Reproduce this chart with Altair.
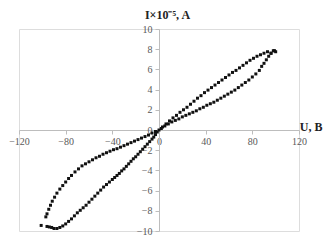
import altair as alt
import pandas as pd

# Positive voltage, upper branch
pu_x = [0, 3, 6, 9, 12, 15, 18, 21, 24, 27, 30, 33, 36, 39, 42, 45, 48, 51, 54, 57,
        60, 63, 66, 69, 72, 75, 78, 81, 84, 87, 90, 93, 96, 99]
pu_y = [0.0, 0.3, 0.6, 0.9, 1.2, 1.45, 1.75, 2.0, 2.25, 2.55, 2.85, 3.15, 3.4, 3.7, 3.95, 4.2, 4.45, 4.7, 4.95, 5.2,
        5.45, 5.7, 5.9, 6.15, 6.4, 6.65, 6.9, 7.1, 7.3, 7.45, 7.6, 7.75, 7.6, 7.85]
# Positive voltage, lower branch
pl_x = [2, 5, 8, 11, 14, 17, 20, 23, 26, 29, 32, 35, 38, 41, 44, 47, 50, 53, 56, 59,
        62, 65, 68, 71, 74, 77, 80, 83, 86, 88, 90, 92, 94, 96, 98, 100]
pl_y = [0.15, 0.4, 0.6, 0.8, 0.95, 1.1, 1.3, 1.45, 1.6, 1.75, 1.9, 2.1, 2.25, 2.45, 2.6, 2.75, 2.95, 3.15, 3.35, 3.55,
        3.75, 3.95, 4.2, 4.45, 4.7, 4.95, 5.25, 5.55, 5.9, 6.3, 6.6, 6.95, 7.3, 7.6, 7.85, 7.75]
# Negative voltage, upper branch
nu_x = [-3, -6, -9, -12, -15, -18, -21, -24, -27, -30, -33, -36, -39, -42, -45, -48, -51, -54, -57, -60,
        -63, -66, -69, -72, -75, -77.5, -80, -82.5, -85, -87.5, -89.5, -91.5, -93, -94.5, -96, -97]
nu_y = [-0.15, -0.3, -0.5, -0.65, -0.8, -0.95, -1.1, -1.25, -1.4, -1.55, -1.7, -1.85, -1.95, -2.1, -2.25, -2.4, -2.6, -2.75, -2.95, -3.15,
        -3.35, -3.55, -3.85, -4.15, -4.5, -4.8, -5.15, -5.5, -5.85, -6.25, -6.65, -7.05, -7.45, -7.85, -8.3, -8.6]
# Negative voltage, lower branch
nl_x = [-1.5, -3, -4.5, -6, -8, -10, -12, -14, -16, -18, -20, -22, -24, -26, -28, -30, -32, -34, -36, -38,
        -40, -42.5, -45, -47.5, -50, -52.5, -55, -57.5, -60, -62.5, -65, -67.5, -70, -72.5, -75, -77.5,
        -80, -82.5, -85, -87.5, -90, -92, -94, -96, -101]
nl_y = [-0.2, -0.45, -0.7, -0.9, -1.15, -1.4, -1.65, -1.9, -2.15, -2.4, -2.65, -2.85, -3.1, -3.35, -3.6, -3.85, -4.05, -4.3, -4.5, -4.7,
        -4.9, -5.15, -5.4, -5.65, -5.95, -6.25, -6.55, -6.85, -7.15, -7.45, -7.7, -7.95, -8.2, -8.5, -8.8, -9.05,
        -9.3, -9.5, -9.65, -9.75, -9.75, -9.65, -9.6, -9.55, -9.45]

x_ticks = [-120, -80, -40, 0, 40, 80, 120]
y_ticks = [-10, -8, -6, -4, -2, 0, 2, 4, 6, 8, 10]

df = pd.DataFrame({
    "U": pu_x + pl_x + nu_x + nl_x,
    "I": pu_y + pl_y + nu_y + nl_y,
})

W, H = 280, 202
FONT = "Liberation Serif"

chart = alt.Chart(df).mark_point(
    filled=True, shape="square", size=9, color="#111111", opacity=1
).encode(
    x=alt.X("U:Q", scale=alt.Scale(domain=[-120, 120], nice=False, zero=False),
            axis=alt.Axis(values=x_ticks, offset=-H / 2, grid=False,
                          domainColor="#bdbdbd", tickColor="#bdbdbd", tickSize=4,
                          labelColor="#595959", labelFont=FONT, labelFontSize=10,
                          labelPadding=2, labelFlush=False, labelOverlap=False,
                          title="U, B", titleFont=FONT, titleFontSize=12, titleFontWeight="bold",
                          titleColor="#222222", titleX=303, titleY=-4, titleAlign="right",
                          titleBaseline="middle", titleAngle=0)),
    y=alt.Y("I:Q", scale=alt.Scale(domain=[-10, 10], nice=False, zero=False),
            axis=alt.Axis(values=y_ticks, offset=-140, grid=False,
                          domainColor="#bdbdbd", tickColor="#bdbdbd", tickSize=4,
                          labelColor="#595959", labelFont=FONT, labelFontSize=10,
                          labelPadding=3, labelFlush=False, labelOverlap=False,
                          title="I×10⁻⁵, A", titleFont=FONT, titleFontSize=12, titleFontWeight="bold",
                          titleColor="#222222", titleX=8, titleY=-15, titleAlign="center",
                          titleBaseline="middle", titleAngle=0)),
).properties(
    width=W, height=H,
    autosize=alt.AutoSizeParams(type="none"),
    padding={"left": 11, "top": 21, "right": 24, "bottom": 5},
).configure_view(stroke=None).configure(background="white")

chart.save("out.html", embed_options={"renderer": "svg", "actions": False})
